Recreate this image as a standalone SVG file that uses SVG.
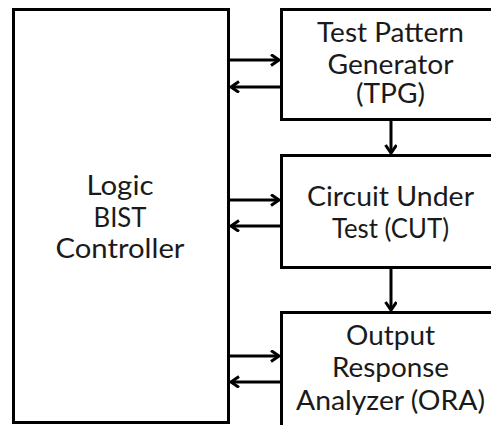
<svg xmlns="http://www.w3.org/2000/svg" width="491" height="425" viewBox="0 0 491 425">
  <style>
    .box { fill: #ffffff; stroke: #000000; stroke-width: 3; }
    .lbl { font-family: Lato, "Noto Sans", sans-serif; font-size: 26px; fill: #1a1a1a; text-anchor: middle; }
    .wire { stroke: #000000; stroke-width: 3; fill: none; }
  </style>
  <defs>
    <marker id="chev" markerUnits="userSpaceOnUse" markerWidth="14" markerHeight="14" refX="9" refY="6" orient="auto">
      <path d="M1,0.5 L9,6 L1,11.5" fill="none" stroke="#000000" stroke-width="3" stroke-linejoin="miter"/>
    </marker>
  </defs>

  <rect width="491" height="425" fill="#ffffff"/>

  <g id="controller">
    <rect class="box" x="13.5" y="9.5" width="215" height="413"/>
    <text class="lbl" x="120" y="195" textLength="67" lengthAdjust="spacingAndGlyphs">Logic</text>
    <text class="lbl" x="120" y="227" textLength="53" lengthAdjust="spacingAndGlyphs">BIST</text>
    <text class="lbl" x="120" y="258" textLength="129" lengthAdjust="spacingAndGlyphs">Controller</text>
  </g>

  <g id="tpg">
    <rect class="box" x="281.5" y="9.5" width="225" height="110"/>
    <text class="lbl" x="390.5" y="42" textLength="147" lengthAdjust="spacingAndGlyphs">Test Pattern</text>
    <text class="lbl" x="390.5" y="74" textLength="126" lengthAdjust="spacingAndGlyphs">Generator</text>
    <text class="lbl" x="390.5" y="103" textLength="69" lengthAdjust="spacingAndGlyphs">(TPG)</text>
  </g>

  <g id="cut">
    <rect class="box" x="281.5" y="155.5" width="225" height="112"/>
    <text class="lbl" x="390.5" y="206" textLength="167" lengthAdjust="spacingAndGlyphs">Circuit Under</text>
    <text class="lbl" x="390.5" y="238" textLength="117" lengthAdjust="spacingAndGlyphs">Test (CUT)</text>
  </g>

  <g id="ora">
    <rect class="box" x="281.5" y="312.5" width="225" height="120"/>
    <text class="lbl" x="390.5" y="345" textLength="89" lengthAdjust="spacingAndGlyphs">Output</text>
    <text class="lbl" x="390.5" y="377" textLength="117" lengthAdjust="spacingAndGlyphs">Response</text>
    <text class="lbl" x="390.5" y="410" textLength="189" lengthAdjust="spacingAndGlyphs">Analyzer (ORA)</text>
  </g>

  <g id="connectors">
    <line class="wire" x1="230" y1="60" x2="279" y2="60" marker-end="url(#chev)"/>
    <line class="wire" x1="280" y1="87" x2="231" y2="87" marker-end="url(#chev)"/>
    <line class="wire" x1="230" y1="200" x2="279" y2="200" marker-end="url(#chev)"/>
    <line class="wire" x1="280" y1="226" x2="231" y2="226" marker-end="url(#chev)"/>
    <line class="wire" x1="230" y1="356" x2="279" y2="356" marker-end="url(#chev)"/>
    <line class="wire" x1="280" y1="382" x2="231" y2="382" marker-end="url(#chev)"/>
    <line class="wire" x1="391" y1="121" x2="391" y2="153" marker-end="url(#chev)"/>
    <line class="wire" x1="391" y1="269" x2="391" y2="310" marker-end="url(#chev)"/>
  </g>
</svg>
